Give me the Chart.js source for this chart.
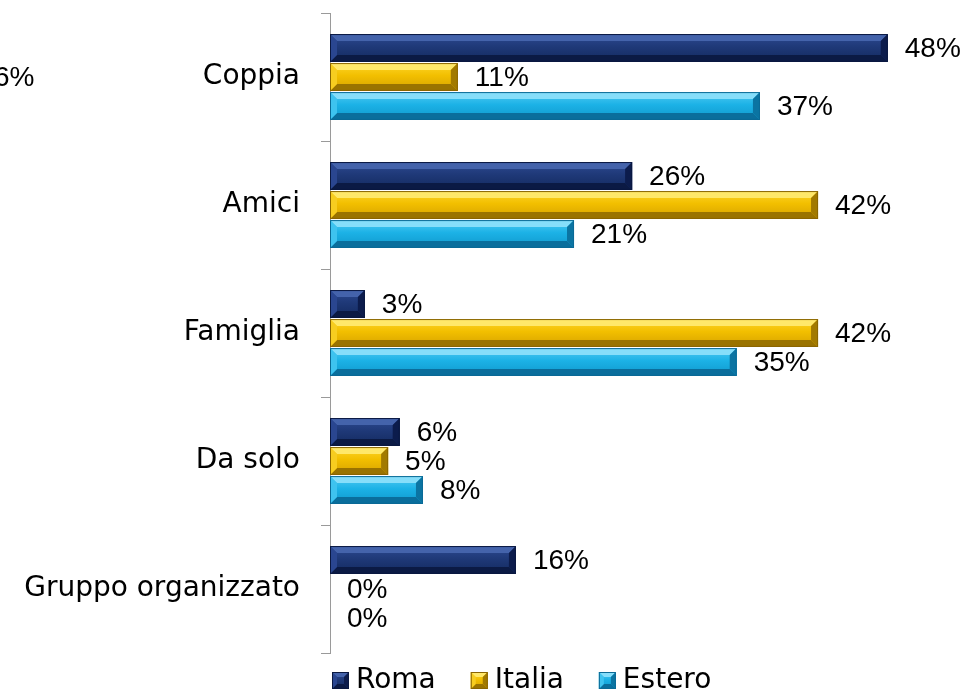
<!DOCTYPE html>
<html>
<head>
<meta charset="utf-8">
<script src="https://cdn.jsdelivr.net/npm/chart.js@4/dist/chart.umd.min.js"></script>
<style>
  html, body { margin: 0; padding: 0; background: #ffffff; }
  #c { display: block; }
</style>
</head>
<body>
<canvas id="c" width="970" height="693"></canvas>
<script>
// ---- data ----
const categories = ['Coppia', 'Amici', 'Famiglia', 'Da solo', 'Gruppo organizzato'];
const seriesNames = ['Roma', 'Italia', 'Estero'];
const romaValues = [48, 26, 3, 6, 16];
const italiaValues = [11, 42, 42, 5, 0];
const esteroValues = [37, 21, 35, 8, 0];
const strayLabel = '6%'; // clipped label of a neighbouring chart, visible at the left edge

// ---- styles ----
const palettes = [
  { faceTop: '#2d4a92', faceMid: '#1f3978', faceBot: '#132a60', top: '#4463ab', bottom: '#0b1a44', left: '#2a4690', right: '#0c1c4c', edge: '#0a1840' },
  { faceTop: '#ffd62a', faceMid: '#f2bf00', faceBot: '#d6a200', top: '#ffe86a', bottom: '#9a7300', left: '#f7cd20', right: '#a27a00', edge: '#8a6500' },
  { faceTop: '#52cbf3', faceMid: '#1cb2e6', faceBot: '#0f98cc', top: '#86defa', bottom: '#0a6e9c', left: '#3ec3ef', right: '#0b74a2', edge: '#0a6a96' }
];
const LABEL_FONT = '28px "Liberation Sans", Arial, sans-serif';
const AXIS_FONT_FAMILY = '"DejaVu Sans", sans-serif';

function poly(ctx, pts, color) {
  ctx.beginPath();
  ctx.moveTo(pts[0][0], pts[0][1]);
  for (let i = 1; i < pts.length; i++) ctx.lineTo(pts[i][0], pts[i][1]);
  ctx.closePath();
  ctx.fillStyle = color;
  ctx.fill();
}

function bevelRect(ctx, x0, y0, x1, y1, pal, bSize) {
  const w = x1 - x0, h = y1 - y0;
  if (w <= 0.5 || h <= 0) return;
  const b = Math.min(bSize, w / 2, h / 2);
  const g = ctx.createLinearGradient(0, y0, 0, y1);
  g.addColorStop(0, pal.faceTop);
  g.addColorStop(0.45, pal.faceMid);
  g.addColorStop(1, pal.faceBot);
  ctx.fillStyle = g;
  ctx.fillRect(x0, y0, w, h);
  poly(ctx, [[x0, y0], [x1, y0], [x1 - b, y0 + b], [x0 + b, y0 + b]], pal.top);
  poly(ctx, [[x0, y1], [x1, y1], [x1 - b, y1 - b], [x0 + b, y1 - b]], pal.bottom);
  poly(ctx, [[x0, y0], [x0 + b, y0 + b], [x0 + b, y1 - b], [x0, y1]], pal.left);
  poly(ctx, [[x1, y0], [x1 - b, y0 + b], [x1 - b, y1 - b], [x1, y1]], pal.right);
  ctx.strokeStyle = pal.edge;
  ctx.lineWidth = 1;
  ctx.strokeRect(x0 + 0.5, y0 + 0.5, w - 1, h - 1);
}

const bevelPlugin = {
  id: 'bevelBars',
  afterDatasetsDraw(chart) {
    const ctx = chart.ctx;
    ctx.save();
    chart.data.datasets.forEach((ds, di) => {
      const meta = chart.getDatasetMeta(di);
      meta.data.forEach((el) => {
        const p = el.getProps(['x', 'y', 'base', 'height'], true);
        const x0 = Math.min(p.x, p.base), x1 = Math.max(p.x, p.base);
        bevelRect(ctx, x0, p.y - p.height / 2, x1, p.y + p.height / 2, palettes[di], 7);
      });
    });
    ctx.restore();
  }
};

const valueLabelPlugin = {
  id: 'valueLabels',
  afterDatasetsDraw(chart) {
    const ctx = chart.ctx;
    ctx.save();
    ctx.font = LABEL_FONT;
    ctx.fillStyle = '#000000';
    ctx.textAlign = 'left';
    ctx.textBaseline = 'middle';
    chart.data.datasets.forEach((ds, di) => {
      const meta = chart.getDatasetMeta(di);
      meta.data.forEach((el, i) => {
        const p = el.getProps(['x', 'y'], true);
        ctx.fillText(Math.round(ds.data[i]) + '%', p.x + 17, p.y + 1);
      });
    });
    // clipped label at the far left edge
    ctx.fillText(strayLabel, -6, 78);
    ctx.restore();
  }
};

const legendPlugin = {
  id: 'bevelLegend',
  afterDraw(chart) {
    const ctx = chart.ctx;
    const area = chart.chartArea;
    ctx.save();
    ctx.font = '28px ' + AXIS_FONT_FAMILY;
    ctx.textBaseline = 'middle';
    ctx.textAlign = 'left';
    ctx.fillStyle = '#000000';
    let x = area.left + 2;
    const yc = area.bottom + 27;
    chart.data.datasets.forEach((ds, di) => {
      bevelRect(ctx, x, yc - 8, x + 17, yc + 9, palettes[di], 5);
      ctx.fillStyle = '#000000';
      ctx.fillText(ds.label, x + 24, yc + 1);
      x += 24 + ctx.measureText(ds.label).width + 35;
    });
    ctx.restore();
  }
};

new Chart(document.getElementById('c'), {
  type: 'bar',
  data: {
    labels: categories,
    datasets: [
      { label: seriesNames[0], data: romaValues, backgroundColor: palettes[0].faceMid },
      { label: seriesNames[1], data: italiaValues, backgroundColor: palettes[1].faceMid },
      { label: seriesNames[2], data: esteroValues, backgroundColor: palettes[2].faceMid }
    ]
  },
  options: {
    indexAxis: 'y',
    responsive: false,
    animation: false,
    devicePixelRatio: 1,
    categoryPercentage: 0.68,
    barPercentage: 0.96,
    layout: { padding: { left: 18, right: 59, top: 13, bottom: 40 } },
    plugins: {
      legend: { display: false },
      tooltip: { enabled: false }
    },
    scales: {
      x: { display: false, min: 0, max: 50 },
      y: {
        afterFit(scale) {
          scale.width = 312;
          scale.paddingTop = 0;
          scale.paddingBottom = 0;
        },
        grid: {
          display: true,
          drawOnChartArea: false,
          drawTicks: true,
          tickLength: 9,
          offset: true,
          color: '#9a9a9a'
        },
        border: { display: true, color: '#9a9a9a', width: 1 },
        ticks: {
          padding: 21,
          color: '#000000',
          font: { family: AXIS_FONT_FAMILY, size: 28 }
        }
      }
    }
  },
  plugins: [bevelPlugin, valueLabelPlugin, legendPlugin]
});
</script>
</body>
</html>
